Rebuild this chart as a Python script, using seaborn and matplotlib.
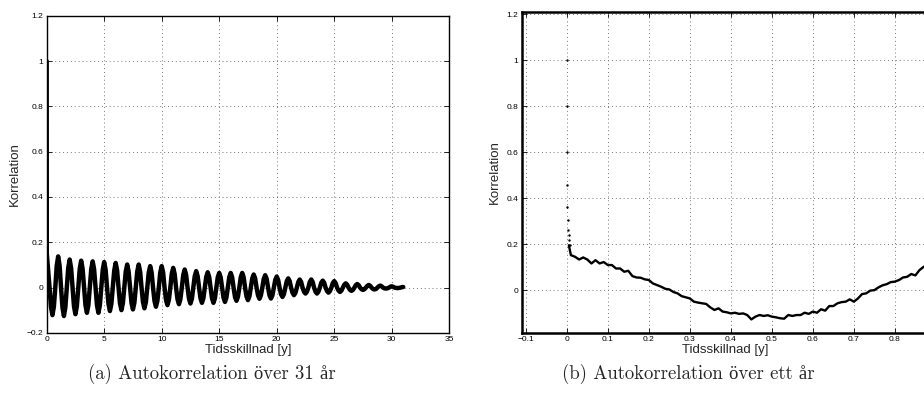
import numpy as np
import pandas as pd
import matplotlib
matplotlib.use("Agg")
import matplotlib.pyplot as plt
import seaborn as sns

# ---------------- data ----------------
# (a) autocorrelation over 31 years: start, yearly peaks and half-year troughs
start_lag = [0.0, 0.01]
start_val = [1.0, 0.15]
peak_lag = list(range(1, 32))
peak_val = [0.138, 0.124, 0.119, 0.116, 0.113, 0.109, 0.102, 0.102, 0.095, 0.095,
            0.087, 0.080, 0.073, 0.068, 0.065, 0.065, 0.065, 0.058, 0.055, 0.049,
            0.041, 0.036, 0.036, 0.031, 0.029, 0.019, 0.016, 0.012, 0.009, 0.006,
            0.003]
# curve height one eighth of a year either side of each peak
peak_shoulder = [0.097, 0.087, 0.083, 0.081, 0.079, 0.076, 0.071, 0.071, 0.067, 0.067,
                 0.061, 0.056, 0.051, 0.048, 0.046, 0.046, 0.046, 0.041, 0.039, 0.034,
                 0.029, 0.025, 0.025, 0.022, 0.020, 0.013, 0.011, 0.008, 0.006, 0.004,
                 0.002]
trough_lag = [k + 0.5 for k in range(31)]
trough_val = [-0.121, -0.125, -0.117, -0.111, -0.111, -0.103, -0.099, -0.096, -0.091, -0.084,
              -0.077, -0.073, -0.070, -0.067, -0.067, -0.063, -0.058, -0.055, -0.049, -0.048,
              -0.041, -0.033, -0.026, -0.026, -0.022, -0.019, -0.014, -0.010, -0.008, -0.004,
              -0.002]
trough_shoulder = [-0.085, -0.088, -0.082, -0.078, -0.078, -0.072, -0.069, -0.067, -0.064, -0.059,
                   -0.054, -0.051, -0.049, -0.047, -0.047, -0.044, -0.041, -0.039, -0.034, -0.034,
                   -0.029, -0.023, -0.018, -0.018, -0.015, -0.013, -0.010, -0.007, -0.006, -0.003,
                   -0.001]
crossing_val = 0.0   # curve crosses zero a quarter year before/after each extremum

# (b) autocorrelation over one year
dot_lag = [0.0, 0.0016, 0.0008, 0.0008, 0.0016, 0.0033, 0.0035, 0.0049, 0.0065, 0.008]
dot_val = [1.0, 0.80, 0.60, 0.456, 0.362, 0.304, 0.264, 0.239, 0.217, 0.196]
year_lag = [0.005, 0.01, 0.02, 0.03, 0.04, 0.05, 0.06, 0.07, 0.08, 0.09,
            0.10, 0.11, 0.12, 0.13, 0.14, 0.15, 0.16, 0.17, 0.18, 0.19,
            0.20, 0.21, 0.22, 0.23, 0.24, 0.25, 0.26, 0.27, 0.28, 0.29,
            0.30, 0.31, 0.32, 0.33, 0.34, 0.35, 0.36, 0.37, 0.38, 0.39,
            0.40, 0.41, 0.42, 0.43, 0.44, 0.45, 0.46, 0.47, 0.48, 0.49,
            0.50, 0.51, 0.52, 0.53, 0.54, 0.55, 0.56, 0.57, 0.58, 0.59,
            0.60, 0.61, 0.62, 0.63, 0.64, 0.65, 0.66, 0.67, 0.68, 0.69,
            0.70, 0.71, 0.72, 0.73, 0.74, 0.75, 0.76, 0.77, 0.78, 0.79,
            0.80, 0.81, 0.82, 0.83, 0.84, 0.85, 0.86, 0.87, 0.88, 0.89]
year_val = [0.196, 0.153, 0.146, 0.134, 0.143, 0.134, 0.117, 0.131, 0.117, 0.123,
            0.110, 0.110, 0.095, 0.095, 0.081, 0.085, 0.062, 0.056, 0.055, 0.048,
            0.045, 0.030, 0.023, 0.016, 0.007, 0.004, -0.007, -0.013, -0.025, -0.030,
            -0.035, -0.049, -0.053, -0.056, -0.059, -0.074, -0.085, -0.078, -0.092, -0.095,
            -0.100, -0.097, -0.102, -0.100, -0.107, -0.126, -0.114, -0.107, -0.111, -0.108,
            -0.114, -0.117, -0.121, -0.123, -0.107, -0.111, -0.107, -0.107, -0.097, -0.102,
            -0.092, -0.097, -0.082, -0.088, -0.068, -0.068, -0.056, -0.051, -0.049, -0.039,
            -0.049, -0.035, -0.016, -0.013, -0.001, 0.001, 0.013, 0.022, 0.027, 0.036,
            0.038, 0.045, 0.056, 0.059, 0.071, 0.065, 0.088, 0.102, 0.110, 0.120]

# ticks / labels
a_xticks = [0, 5, 10, 15, 20, 25, 30, 35]
a_xticklabels = ["0", "5", "10", "15", "20", "25", "30", "35"]
a_yticks = [-0.2, 0, 0.2, 0.4, 0.6, 0.8, 1.0, 1.2]
a_yticklabels = ["\u22120.2", "0", "0.2", "0.4", "0.6", "0.8", "1", "1.2"]
b_xticks = [-0.1, 0, 0.1, 0.2, 0.3, 0.4, 0.5, 0.6, 0.7, 0.8]
b_xticklabels = ["\u22120.1", "0", "0.1", "0.2", "0.3", "0.4", "0.5", "0.6", "0.7", "0.8"]
b_yticks = [0, 0.2, 0.4, 0.6, 0.8, 1.0, 1.2]
b_yticklabels = ["0", "0.2", "0.4", "0.6", "0.8", "1", "1.2"]
xlabel = "Tidsskillnad [y]"
ylabel = "Korrelation"
caption_a = "(a) Autokorrelation över 31 år"
caption_b = "(b) Autokorrelation över ett år"

# ---------------- build tables ----------------
rows = list(zip(start_lag, start_val))
rows.append((0.25, crossing_val))
for tl, tv, ts, pl, pv, ps in zip(trough_lag, trough_val, trough_shoulder,
                                  peak_lag, peak_val, peak_shoulder):
    rows.append((tl - 0.125, ts))
    rows.append((tl, tv))
    rows.append((tl + 0.125, ts))
    rows.append((tl + 0.25, crossing_val))
    rows.append((pl - 0.125, ps))
    rows.append((pl, pv))
    if pl < 31:
        rows.append((pl + 0.125, ps))
        rows.append((pl + 0.25, crossing_val))
df_a = pd.DataFrame(rows, columns=["lag", "corr"])
df_b = pd.DataFrame({"lag": year_lag, "corr": year_val})
df_dots = pd.DataFrame({"lag": dot_lag, "corr": dot_val})

# ---------------- style ----------------
sns.set_theme(style="ticks")
sans = ["Liberation Sans", "DejaVu Sans"]
plt.rcParams["font.family"] = sans
plt.rcParams.update({
    "xtick.direction": "in", "ytick.direction": "in",
    "xtick.top": True, "ytick.right": True,
    "xtick.major.size": 3.5, "ytick.major.size": 3.5,
    "xtick.major.width": 0.6, "ytick.major.width": 0.6,
    "xtick.color": "black", "ytick.color": "black",
    "axes.edgecolor": "black",
})

fig = plt.figure(figsize=(9.24, 4.01), dpi=100)
ax1 = fig.add_axes([0.0505, 0.1696, 0.4357, 0.7913])
ax2 = fig.add_axes([0.5646, 0.1696, 0.4416, 0.8012])

sns.lineplot(data=df_a, x="lag", y="corr", ax=ax1, color="black", linewidth=3.2,
             sort=False, estimator=None)
sns.lineplot(data=df_b, x="lag", y="corr", ax=ax2, color="black", linewidth=1.7,
             sort=False, estimator=None)
sns.scatterplot(data=df_dots, x="lag", y="corr", ax=ax2, color="black", s=3,
                linewidth=0)

def style(ax, xt, xtl, yt, ytl, xlim, ylim, spine_w):
    ax.set_xlim(*xlim)
    ax.set_ylim(*ylim)
    ax.set_xticks(xt)
    ax.set_xticklabels(xtl)
    ax.set_yticks(yt)
    ax.set_yticklabels(ytl)
    ax.tick_params(labelsize=6, pad=2.5)
    ax.grid(True, color="#777777", linestyle=(0, (1, 3)), linewidth=0.7)
    for s in ax.spines.values():
        s.set_visible(True)
        s.set_linewidth(spine_w)
        s.set_color("black")
    ax.set_xlabel(xlabel, fontsize=9.5, labelpad=0.5)
    ax.set_ylabel(ylabel, fontsize=9.5, labelpad=4)

style(ax1, a_xticks, a_xticklabels, a_yticks, a_yticklabels, (0, 35), (-0.2, 1.2), 1.0)
style(ax2, b_xticks, b_xticklabels, b_yticks, b_yticklabels, (-0.11, 0.885), (-0.185, 1.21), 1.8)

cap_font = ["cmr10", "Liberation Serif"]
fig.text(212 / 924, 0.068, caption_a, ha="center", va="center", fontsize=13.5, family=cap_font)
fig.text(688 / 924, 0.068, caption_b, ha="center", va="center", fontsize=13.5, family=cap_font)

fig.savefig("out.png", dpi=100)
